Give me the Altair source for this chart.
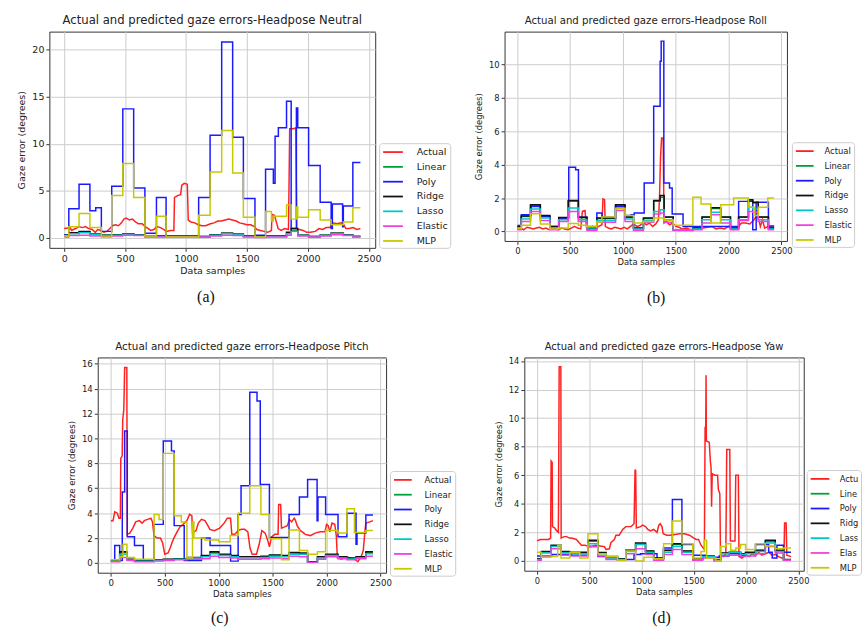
import altair as alt
import pandas as pd

FONT = "DejaVu Sans"
SERIES = ["Actual", "Linear", "Poly", "Ridge", "Lasso", "Elastic", "MLP"]
COLORS = ["#ff2020", "#00a03c", "#1a1aff", "#111111", "#00c8c8", "#f040e0", "#c8c800"]
X_TICKS = [0, 500, 1000, 1500, 2000, 2500]
X_DOMAIN = [-121.5, 2551.5]

# ---------------- (a) Headpose Neutral ----------------
A_TITLE = "Actual and predicted gaze errors-Headpose Neutral"
A_Y_TICKS = [0, 5, 10, 15, 20]
A_Y_DOMAIN = [-1.05, 21.9]
A_ACTUAL_X = [0, 30, 45, 60, 75, 95, 120, 150, 175, 200, 230, 255, 275, 300, 325, 350, 375, 395, 420, 445,
              470, 490, 510, 535, 560, 585, 610, 640, 665, 690, 710, 735, 760, 790, 815, 840, 870, 900, 905, 930,
              955, 965, 985, 1010, 1018, 1040, 1070, 1100, 1130, 1160, 1200, 1230, 1260, 1290, 1320, 1350, 1380,
              1410, 1440, 1470, 1500, 1530, 1560, 1580, 1610, 1640, 1670, 1700, 1705, 1725, 1745, 1755, 1780,
              1810, 1840, 1850, 1880, 1900, 1908, 1930, 1960, 1990, 2020, 2060, 2090, 2120, 2150, 2180, 2200,
              2240, 2270, 2290, 2310, 2340, 2370, 2400, 2430]
A_ACTUAL_Y = [1.0, 1.05, 1.2, 0.8, 0.9, 1.0, 1.2, 1.1, 1.2, 1.0, 0.9, 0.6, 0.9, 0.8, 0.6, 0.7, 1.0, 1.3, 1.4, 1.3,
              1.6, 2.0, 2.1, 1.9, 2.0, 1.7, 1.5, 1.5, 1.2, 1.0, 0.8, 0.9, 1.2, 1.1, 0.9, 0.7, 0.8, 0.8, 4.3, 4.5,
              4.6, 5.6, 5.8, 5.7, 1.9, 1.7, 1.6, 1.4, 1.3, 1.3, 1.5, 1.6, 1.8, 1.8, 1.9, 2.0, 1.9,
              1.8, 1.6, 1.5, 1.4, 1.4, 1.2, 0.9, 0.8, 0.7, 0.6, 0.8, 2.5, 2.4, 1.5, 1.0, 0.8,
              1.0, 0.9, 11.6, 11.6, 11.7, 1.0, 0.9, 0.8, 0.6, 0.6, 0.7, 1.0, 0.9, 1.1, 1.1, 1.6,
              1.5, 1.6, 1.5, 1.0, 1.0, 1.1, 0.9, 1.0]
A_POLY_EDGES = [0, 38, 122, 211, 259, 305, 390, 481, 570, 662, 757, 836, 1103, 1197, 1292, 1382, 1470, 1565, 1652,
                1716, 1730, 1757, 1824, 1862, 1905, 1916, 2005, 2100, 2190, 2200, 2284, 2290, 2368, 2430]
A_POLY = [0.35, 3.1, 5.7, 2.9, 3.2, 0.7, 5.5, 13.7, 5.3, 0.5, 4.3, 0.2, 4.3, 10.9, 20.8, 10.7, 4.2, 0.3, 7.3, 5.8,
          10.8, 11.7, 14.5, 1.0, 13.8, 11.7, 7.7, 3.8, 1.0, 3.6, 1.2, 3.4, 8.0]
A_MLP_EDGES = [0, 38, 122, 211, 305, 390, 481, 570, 662, 757, 836, 1103, 1197, 1292, 1382, 1470, 1565, 1652, 1700,
               1716, 1824, 1862, 1905, 1916, 2005, 2100, 2190, 2290, 2368, 2430]
A_MLP = [0.2, 1.2, 2.6, 1.1, 0.1, 4.5, 7.9, 4.3, 0.2, 2.3, 0.1, 2.4, 7.0, 11.4, 6.9, 2.2, 0.1, 2.8, 1.8, 2.3,
         3.5, 2.0, 3.3, 2.2, 3.0, 1.9, 1.4, 1.7, 3.2]
A_REG_EDGES = [0, 38, 122, 211, 305, 390, 481, 570, 662, 836, 1103, 1197, 1292, 1382, 1470, 1565, 1652, 1824, 1862,
               1916, 2005, 2100, 2190, 2290, 2368, 2430]
A_LINEAR = [0.3, 0.5, 0.65, 0.4, 0.3, 0.35, 0.45, 0.35, 0.2, 0.15, 0.15, 0.35, 0.5, 0.4, 0.2, 0.15, 0.2, 0.5, 0.8,
            0.3, 0.15, 0.3, 0.5, 0.35, 0.15]
A_RIDGE = [0.3, 0.55, 0.7, 0.4, 0.3, 0.35, 0.45, 0.35, 0.2, 0.15, 0.15, 0.35, 0.5, 0.4, 0.2, 0.15, 0.2, 0.6, 1.0,
           0.3, 0.15, 0.3, 0.5, 0.35, 0.15]
A_LASSO = [0.25, 0.45, 0.55, 0.35, 0.25, 0.3, 0.4, 0.3, 0.15, 0.1, 0.1, 0.3, 0.45, 0.35, 0.15, 0.1, 0.15, 0.45, 0.7,
           0.25, 0.1, 0.25, 0.45, 0.3, 0.1]
A_ELASTIC = [0.1, 0.25, 0.3, 0.2, 0.15, 0.2, 0.3, 0.25, 0.1, 0.1, 0.1, 0.2, 0.3, 0.25, 0.1, 0.05, 0.1, 0.3, 0.7,
             0.2, 0.1, 0.2, 0.35, 0.25, 0.2]

# ---------------- (b) Headpose Roll ----------------
B_TITLE = "Actual and predicted gaze errors-Headpose Roll"
B_Y_TICKS = [0, 2, 4, 6, 8, 10]
B_Y_DOMAIN = [-0.57, 11.97]
B_ACTUAL_X = [0, 30, 60, 90, 120, 150, 180, 210, 240, 270, 300, 330, 360, 390, 420, 450, 480, 510, 540, 570, 600,
              615, 640, 655, 680, 710, 740, 770, 800, 810, 825, 832, 860, 890, 920, 950, 980, 1010, 1040, 1070,
              1100, 1130, 1160, 1190, 1220, 1250, 1280, 1310, 1335, 1345, 1355, 1365, 1380, 1388, 1410, 1440,
              1470, 1500, 1530, 1560, 1600, 1640, 1680, 1720, 1760, 1800, 1840, 1880, 1920, 1960, 2000, 2040,
              2080, 2120, 2160, 2200, 2240, 2260, 2280, 2300, 2320, 2340, 2370, 2400, 2430]
B_ACTUAL_Y = [0.15, 0.2, 0.1, 0.25, 0.2, 0.15, 0.2, 0.25, 0.15, 0.2, 0.1, 0.2, 0.15, 0.1, 0.2, 0.15, 0.1, 0.2, 0.3,
              0.2, 0.15, 1.2, 1.25, 0.2, 0.15, 0.3, 0.2, 0.3, 0.4, 1.95, 1.9, 0.3, 0.2, 0.15, 0.25, 0.2, 0.15,
              0.25, 0.15, 0.3, 0.45, 0.3, 0.35, 0.55, 0.4, 0.5, 0.3, 0.45, 0.7, 2.0, 4.5, 5.6, 5.6, 0.5, 0.6, 0.4,
              0.5, 0.3, 0.25, 0.15, 0.2, 0.1, 0.2, 0.3, 0.2, 0.25, 0.3, 0.15, 0.2, 0.15, 0.3, 0.1, 0.2, 0.5, 0.5,
              0.45, 0.7, 0.9, 0.8, 0.3, 0.7, 0.2, 0.3, 0.25, 0.3]
B_POLY_EDGES = [0, 37, 130, 217, 307, 391, 486, 551, 578, 658, 752, 800, 929, 1019, 1078, 1106, 1200, 1290, 1351,
                1361, 1386, 1440, 1465, 1568, 2094, 2228, 2260, 2376, 2430]
B_POLY = [0.35, 1.0, 1.5, 0.9, 0.3, 0.8, 3.85, 3.7, 0.85, 0.3, 1.1, 0.85, 1.5, 0.95, 1.0, 1.1, 2.9, 7.5, 10.2, 11.4,
          2.9, 2.6, 1.05, 0.3, 1.8, 0.1, 1.75, 0.33]
B_MLP_EDGES = [0, 37, 124, 217, 307, 391, 481, 577, 658, 752, 800, 929, 1019, 1099, 1193, 1290, 1389, 1475, 1661,
               1738, 1831, 1924, 2047, 2187, 2240, 2280, 2370, 2430]
B_MLP = [0.18, 0.37, 1.06, 0.45, 0.14, 0.2, 0.47, 0.37, 0.28, 0.57, 0.87, 1.36, 0.96, 0.5, 0.6, 0.8, 0.67, 0.37,
         2.05, 1.65, 0.5, 1.6, 2.0, 1.45, 0.95, 1.45, 2.0]
B_REG_EDGES = [0, 37, 124, 217, 307, 391, 481, 577, 658, 752, 929, 1019, 1099, 1193, 1290, 1351, 1389, 1475, 1661,
               1748, 1831, 1924, 2017, 2094, 2187, 2228, 2280, 2376, 2430]
B_LINEAR = [0.27, 0.9, 1.55, 0.93, 0.28, 0.8, 1.8, 0.82, 0.17, 0.78, 1.55, 0.85, 0.18, 0.78, 1.8, 2.05, 0.85, 0.1,
            0.18, 0.85, 1.38, 0.85, 0.18, 0.85, 1.85, 1.7, 0.85, 0.18]
B_RIDGE = [0.28, 0.93, 1.6, 0.96, 0.3, 0.83, 1.85, 0.85, 0.18, 0.8, 1.6, 0.87, 0.2, 0.8, 1.85, 2.15, 0.87, 0.1,
           0.2, 0.87, 1.42, 0.87, 0.2, 0.87, 1.9, 1.75, 0.87, 0.2]
B_LASSO = [0.22, 0.75, 1.35, 0.8, 0.22, 0.7, 1.4, 0.7, 0.15, 0.65, 1.4, 0.75, 0.15, 0.65, 1.2, 1.3, 0.7, 0.1,
           0.15, 0.7, 1.15, 0.7, 0.15, 0.7, 1.45, 1.35, 0.7, 0.15]
B_ELASTIC = [0.1, 0.6, 1.2, 0.65, 0.1, 0.6, 1.2, 0.6, 0.05, 0.55, 1.25, 0.6, 0.05, 0.55, 1.05, 1.1, 0.55, 0.05,
             0.1, 0.5, 1.0, 0.5, 0.1, 0.65, 1.2, 1.15, 0.6, 0.1]

# ---------------- (c) Headpose Pitch ----------------
C_TITLE = "Actual and predicted gaze errors-Headpose Pitch"
C_Y_TICKS = [0, 2, 4, 6, 8, 10, 12, 14, 16]
C_Y_DOMAIN = [-0.78, 16.5]
C_ACTUAL_X = [0, 20, 36, 60, 75, 88, 92, 105, 110, 120, 128, 148, 152, 175, 204, 230, 264, 290, 310, 340, 371, 386,
              400, 430, 460, 480, 500, 530, 550, 570, 590, 614, 640, 670, 705, 730, 751, 757, 790, 811, 840, 872,
              900, 918, 960, 1009, 1050, 1080, 1110, 1121, 1150, 1180, 1210, 1240, 1270, 1290, 1310, 1350, 1375,
              1400, 1430, 1455, 1470, 1490, 1520, 1550, 1556, 1574, 1582, 1610, 1636, 1655, 1676, 1700, 1712,
              1727, 1758, 1790, 1803, 1850, 1894, 1940, 1985, 2000, 2015, 2030, 2050, 2076, 2090, 2100, 2140,
              2180, 2220, 2260, 2290, 2320, 2340, 2355, 2364, 2400, 2430]
C_ACTUAL_Y = [3.4, 3.4, 4.1, 4.0, 3.6, 3.6, 8.4, 8.6, 11.5, 12.3, 15.7, 15.7, 2.3, 2.4, 2.8, 3.3, 3.4, 3.2, 3.4, 3.5,
              3.6, 3.3, 2.2, 2.0, 2.0, 1.6, 0.7, 0.8, 1.2, 1.7, 2.1, 2.5, 2.9, 3.1, 3.4, 3.9, 3.8, 2.4, 2.6, 3.2,
              3.5, 3.4, 3.0, 2.7, 2.6, 2.8, 3.2, 3.6, 3.6, 2.3, 2.3, 2.6, 2.7, 2.7, 2.5, 1.2, 0.7, 0.7, 1.5, 2.6,
              2.4, 1.8, 1.3, 2.1, 2.3, 2.3, 4.7, 4.7, 2.8, 2.9, 3.0, 3.5, 3.3, 3.6, 3.4, 3.0, 2.6, 2.4, 2.3, 2.2,
              2.4, 2.5, 2.5, 3.1, 3.0, 2.5, 3.2, 3.1, 2.2, 0.4, 0.3, 0.5, 0.4, 0.3, 0.1, 0.5, 1.0, 2.5, 3.2, 3.3,
              3.4]
C_POLY_EDGES = [0, 36, 82, 106, 128, 152, 219, 301, 401, 486, 562, 587, 680, 840, 920, 1000, 1110, 1180, 1207, 1288,
                1355, 1385, 1470, 1652, 1748, 1824, 1912, 1920, 1991, 2106, 2188, 2273, 2282, 2364, 2430]
C_POLY = [0.13, 1.4, 0.2, 5.7, 10.6, 2.1, 1.4, 0.2, 3.1, 9.8, 9.0, 3.0, 0.2, 2.0, 1.4, 1.4, 0.15, 3.9, 6.2, 13.7,
          13.0, 6.3, 2.05, 3.9, 5.3, 6.7, 3.4, 5.3, 3.9, 2.1, 4.0, 1.5, 2.4, 3.85]
C_MLP_EDGES = [0, 82, 112, 149, 219, 401, 447, 486, 587, 653, 705, 757, 770, 872, 1000, 1106, 1182, 1288, 1391, 1470,
               1582, 1652, 1748, 1824, 1915, 1991, 2106, 2188, 2258, 2364, 2430]
C_MLP = [0.26, 0.5, 1.5, 0.45, 0.3, 3.9, 3.5, 8.8, 3.8, 3.3, 0.4, 3.3, 2.0, 1.85, 1.7, 2.2, 4.0, 6.2, 3.9, 1.95,
         0.26, 2.65, 1.0, 0.7, 0.9, 2.6, 2.4, 4.35, 2.45, 2.6]
C_REG_EDGES = [0, 82, 149, 219, 401, 486, 587, 705, 840, 920, 1000, 1110, 1182, 1288, 1391, 1470, 1582, 1652, 1748,
               1824, 1915, 1991, 2106, 2188, 2273, 2364, 2430]
C_LINEAR = [0.18, 0.85, 0.28, 0.18, 0.22, 0.28, 0.33, 0.42, 0.55, 0.85, 0.65, 0.55, 0.45, 0.45, 0.5, 0.6, 0.55, 0.8,
            0.75, 0.08, 0.45, 0.65, 0.45, 0.35, 0.45, 0.85]
C_RIDGE = [0.2, 0.9, 0.3, 0.2, 0.25, 0.3, 0.35, 0.45, 0.6, 0.9, 0.7, 0.6, 0.5, 0.5, 0.55, 0.65, 0.6, 0.85, 0.8, 0.1,
           0.5, 0.7, 0.5, 0.4, 0.5, 0.9]
C_LASSO = [0.15, 0.7, 0.25, 0.15, 0.2, 0.25, 0.3, 0.4, 0.5, 0.75, 0.6, 0.5, 0.42, 0.42, 0.45, 0.55, 0.5, 0.7, 0.7,
           0.05, 0.4, 0.6, 0.4, 0.32, 0.4, 0.75]
C_ELASTIC = [0.1, 0.45, 0.2, 0.1, 0.15, 0.2, 0.25, 0.3, 0.35, 0.55, 0.45, 0.4, 0.3, 0.3, 0.35, 0.4, 0.35, 0.55, 0.5,
             0.05, 0.3, 0.5, 0.35, 0.25, 0.35, 0.55]

# ---------------- (d) Headpose Yaw ----------------
D_TITLE = "Actual and predicted gaze errors-Headpose Yaw"
D_Y_TICKS = [0, 2, 4, 6, 8, 10, 12, 14]
D_Y_DOMAIN = [-0.69, 14.25]
D_ACTUAL_X = [0, 31, 70, 110, 130, 135, 145, 148, 170, 189, 204, 206, 212, 228, 231, 260, 283, 310, 330, 377, 400,
              425, 460, 487, 520, 560, 600, 645, 660, 692, 708, 740, 755, 786, 820, 849, 900, 928, 938, 944, 950,
              991, 1010, 1038, 1060, 1085, 1116, 1148, 1165, 1179, 1195, 1207, 1240, 1270, 1320, 1364, 1410, 1459,
              1500, 1522, 1545, 1569, 1601, 1608, 1614, 1617, 1620, 1648, 1658, 1665, 1670, 1676, 1700, 1727,
              1735, 1749, 1755, 1780, 1806, 1815, 1844, 1850, 1894, 1901, 1926, 1932, 1960, 1995, 2030, 2060,
              2090, 2120, 2150, 2184, 2216, 2250, 2280, 2311, 2340, 2362, 2368, 2383, 2390, 2430]
D_ACTUAL_Y = [1.4, 1.5, 1.5, 1.5, 1.6, 7.0, 6.9, 2.4, 2.3, 2.1, 2.0, 3.9, 13.6, 13.6, 1.6, 1.7, 1.7, 1.6, 1.6, 1.5,
              1.3, 1.1, 1.1, 1.0, 1.0, 1.1, 1.05, 1.0, 0.8, 0.85, 1.3, 1.5, 1.8, 1.8, 2.2, 2.4, 2.4, 2.6, 6.4, 6.3,
              2.3, 2.4, 2.5, 2.4, 2.2, 2.1, 2.2, 2.0, 2.5, 2.6, 2.4, 1.9, 1.8, 1.8, 1.85, 1.9, 1.9, 1.8, 1.6, 1.5,
              1.5, 1.1, 0.8, 9.4, 9.3, 13.0, 8.4, 8.3, 7.0, 6.5, 3.8, 6.1, 6.0, 6.0, 5.0, 4.7, 0.4, 0.3, 0.5, 7.8,
              7.8, 1.4, 1.4, 6.0, 6.0, 0.3, 0.2, 0.4, 0.3, 0.5, 0.35, 0.6, 0.4, 0.5, 0.6, 0.4, 0.45, 0.3, 0.2, 0.2,
              2.65, 2.65, 0.4, 0.3]
D_POLY_EDGES = [0, 141, 330, 487, 582, 770, 928, 991, 1148, 1210, 1295, 1386, 1490, 1617, 1743, 1838, 1932, 1995,
                2090, 2216, 2250, 2295, 2358, 2430]
D_POLY = [0.35, 0.45, 0.4, 1.0, 0.3, 0.1, 0.45, 0.5, 0.15, 0.9, 4.3, 1.15, 0.4, 0.25, 0.35, 0.5, 0.4, 0.55, 1.15,
          0.6, 0.2, 1.1, 0.6]
D_MLP_EDGES = [0, 41, 135, 198, 230, 314, 409, 487, 582, 660, 770, 849, 943, 1022, 1116, 1211, 1295, 1386, 1490,
               1569, 1601, 1623, 1711, 1758, 1806, 1853, 1901, 1948, 1995, 2090, 2184, 2279, 2358, 2430]
D_MLP = [0.6, 0.25, 0.3, 1.1, 0.2, 0.6, 0.2, 1.9, 0.5, 0.3, 0.05, 0.7, 0.0, 0.25, 0.15, 1.2, 2.8, 1.2, 0.2, 0.65,
         1.45, 0.2, 0.0, 1.0, 1.2, 0.75, 0.9, 1.15, 0.8, 1.2, 1.05, 0.85, 0.9]
D_REG_EDGES = [0, 41, 135, 230, 314, 487, 582, 660, 770, 849, 943, 1038, 1116, 1211, 1295, 1386, 1490, 1585, 1695,
               1758, 1838, 1948, 1995, 2090, 2184, 2279, 2358, 2430]
D_LINEAR = [0.12, 0.62, 1.05, 0.62, 0.57, 1.38, 0.55, 0.22, 0.12, 0.72, 1.2, 0.67, 0.18, 0.72, 1.15, 0.67, 0.12,
            0.32, 0.08, 0.52, 0.57, 0.47, 0.57, 0.72, 1.35, 0.72, 0.08]
D_RIDGE = [0.15, 0.65, 1.1, 0.65, 0.6, 1.45, 0.58, 0.25, 0.15, 0.75, 1.25, 0.7, 0.2, 0.75, 1.2, 0.7, 0.15, 0.35,
           0.1, 0.55, 0.6, 0.5, 0.6, 0.75, 1.45, 0.75, 0.1]
D_LASSO = [0.1, 0.55, 1.0, 0.55, 0.5, 1.2, 0.5, 0.2, 0.1, 0.65, 1.15, 0.6, 0.15, 0.6, 1.0, 0.6, 0.1, 0.3, 0.05,
           0.5, 0.6, 0.45, 0.5, 0.65, 1.25, 0.65, 0.05]
D_ELASTIC = [0.05, 0.35, 0.85, 0.4, 0.35, 1.0, 0.35, 0.1, 0.05, 0.5, 0.85, 0.45, 0.05, 0.45, 0.8, 0.45, 0.05, 0.2,
             0.0, 0.35, 0.4, 0.3, 0.35, 0.5, 1.0, 0.55, 0.05]


def build_table(actual_x, actual_y, step_series):
    rows = []
    for k, (x, y) in enumerate(zip(actual_x, actual_y)):
        rows.append({"series": "Actual", "x": x, "y": y, "k": k})
    for name, edges, levels in step_series:
        ys = list(levels) + [levels[-1]]
        for k, (x, y) in enumerate(zip(edges, ys)):
            rows.append({"series": name, "x": x, "y": y, "k": k})
    return pd.DataFrame(rows)


def panel(df, title, caption, y_ticks, y_domain, w, h, fs, tfs, lx, ly, sym, lab_start, cap_pad, cap_dx,
          label_chars=None):
    xsc = alt.Scale(domain=X_DOMAIN, nice=False, zero=False)
    ysc = alt.Scale(domain=y_domain, nice=False, zero=False)
    common = dict(domain=False, grid=True, gridColor="#cccccc", gridWidth=1, ticks=True, tickColor="#333333",
                  tickSize=3.5, tickWidth=1, labelFont=FONT, labelFontSize=fs, labelColor="#222222",
                  labelPadding=2, labelFlush=False, format="d", titleFont=FONT, titleFontSize=fs,
                  titleFontWeight="normal", titleColor="#222222")
    y_axis = alt.Axis(values=y_ticks, title="Gaze error (degrees)", titlePadding=5, **common)
    x_axis = alt.Axis(values=X_TICKS, title="Data samples", titlePadding=3, orient="bottom", **common)
    cap_axis = alt.Axis(title=caption, orient="bottom", labels=False, ticks=False, domain=False, grid=False,
                        titleFont="Liberation Serif", titleFontSize=16, titleFontWeight="normal",
                        titleColor="#111111", titlePadding=cap_pad, titleX=w / 2 + cap_dx, titleBaseline="top")
    pad = 2
    nominal = 12
    k = sym / nominal
    sym_off = 3 - pad - nominal / 2 + sym / 2
    extra = {}
    if label_chars:
        extra["labelExpr"] = f"substring(datum.label, 0, {label_chars})"
    legend = alt.Legend(title=None, orient="none", legendX=lx, legendY=ly, direction="vertical",
                        symbolType=f"M{-k:.3f},0H{k:.3f}", symbolSize=nominal * nominal, symbolStrokeWidth=1.8,
                        symbolOffset=sym_off,
                        labelFont=FONT, labelFontSize=fs, labelColor="#222222", labelAlign="left",
                        labelOffset=lab_start - pad - nominal,
                        rowPadding=3, padding=pad, strokeColor="#cccccc", fillColor="#ffffff", cornerRadius=3,
                        **extra)
    color = alt.Color("series:N", scale=alt.Scale(domain=SERIES, range=COLORS), legend=legend)
    base = alt.Chart(df)
    act = base.transform_filter(alt.datum.series == "Actual").mark_line(strokeWidth=1.5, clip=True).encode(
        x=alt.X("x:Q", scale=xsc, axis=x_axis),
        y=alt.Y("y:Q", scale=ysc, axis=y_axis),
        color=color, order="k:Q")
    stp = base.transform_filter(alt.datum.series != "Actual").mark_line(
        strokeWidth=1.5, interpolate="step-after", clip=True).encode(
        x=alt.X("x:Q", scale=xsc, axis=cap_axis),
        y=alt.Y("y:Q", scale=ysc, axis=y_axis),
        color=color, order="k:Q")
    return alt.layer(act, stp).resolve_axis(x="independent").properties(
        width=w, height=h,
        title=alt.TitleParams(title, font=FONT, fontSize=tfs, fontWeight="normal", color="#222222",
                              anchor="middle", frame="group", offset=5))


def spacer(w, h):
    return alt.Chart(pd.DataFrame({"s": [0]})).mark_point(opacity=0).encode(
        x=alt.X("s:Q", axis=None), y=alt.Y("s:Q", axis=None)
    ).properties(width=w, height=h, view=alt.ViewBackground(stroke="transparent", fill="#ffffff"))


df_a = build_table(A_ACTUAL_X, A_ACTUAL_Y, [("Linear", A_REG_EDGES, A_LINEAR), ("Poly", A_POLY_EDGES, A_POLY),
                                            ("Ridge", A_REG_EDGES, A_RIDGE), ("Lasso", A_REG_EDGES, A_LASSO),
                                            ("Elastic", A_REG_EDGES, A_ELASTIC), ("MLP", A_MLP_EDGES, A_MLP)])
df_b = build_table(B_ACTUAL_X, B_ACTUAL_Y, [("Linear", B_REG_EDGES, B_LINEAR), ("Poly", B_POLY_EDGES, B_POLY),
                                            ("Ridge", B_REG_EDGES, B_RIDGE), ("Lasso", B_REG_EDGES, B_LASSO),
                                            ("Elastic", B_REG_EDGES, B_ELASTIC), ("MLP", B_MLP_EDGES, B_MLP)])
df_c = build_table(C_ACTUAL_X, C_ACTUAL_Y, [("Linear", C_REG_EDGES, C_LINEAR), ("Poly", C_POLY_EDGES, C_POLY),
                                            ("Ridge", C_REG_EDGES, C_RIDGE), ("Lasso", C_REG_EDGES, C_LASSO),
                                            ("Elastic", C_REG_EDGES, C_ELASTIC), ("MLP", C_MLP_EDGES, C_MLP)])
df_d = build_table(D_ACTUAL_X, D_ACTUAL_Y, [("Linear", D_REG_EDGES, D_LINEAR), ("Poly", D_POLY_EDGES, D_POLY),
                                            ("Ridge", D_REG_EDGES, D_RIDGE), ("Lasso", D_REG_EDGES, D_LASSO),
                                            ("Elastic", D_REG_EDGES, D_ELASTIC), ("MLP", D_MLP_EDGES, D_MLP)])

pa = panel(df_a, A_TITLE, "(a)", A_Y_TICKS, A_Y_DOMAIN, 330, 219, 9.6, 11.8, 334, 113, 20, 31, 41, -7)
pb = panel(df_b, B_TITLE, "(b)", B_Y_TICKS, B_Y_DOMAIN, 286, 212, 8.5, 10.3, 291, 112, 18, 27, 49, 10)
pc = panel(df_c, C_TITLE, "(c)", C_Y_TICKS, C_Y_DOMAIN, 292, 218, 8.7, 10.5, 296, 115, 18, 29, 37, -23)
pd_ = panel(df_d, D_TITLE, "(d)", D_Y_TICKS, D_Y_DOMAIN, 283, 216, 8.4, 10.1, 286, 114, 19, 27, 39, -3,
            label_chars=4)

IND = dict(x="independent", y="independent", color="independent")
row1 = alt.hconcat(spacer(47, 1), pa, spacer(131, 1), pb, spacing=0, bounds="flush").resolve_scale(**IND)
row2 = alt.hconcat(spacer(96, 1), pc, spacer(140, 1), pd_, spacing=0, bounds="flush").resolve_scale(**IND)

chart = alt.vconcat(row1, spacer(1, 34), row2, spacing=0).resolve_scale(**IND).properties(
    padding={"left": 0, "top": 10, "right": 0, "bottom": 0}, background="white"
).configure_view(stroke="#333333", strokeWidth=1)

chart.save("out.html", embed_options={"renderer": "svg", "actions": False})
